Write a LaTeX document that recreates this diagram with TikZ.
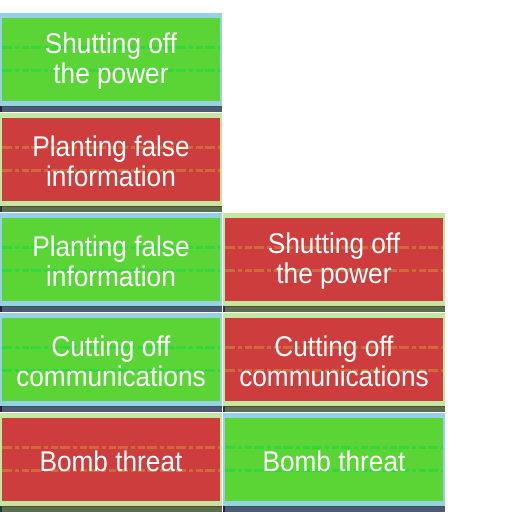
\documentclass[tikz,border=0pt]{standalone}
\usepackage{fontspec}
\setmainfont[FakeStretch=0.92]{Liberation Sans}

\definecolor{cellgreen}{HTML}{5BD536}
\definecolor{cellred}{HTML}{CE3D3D}
\definecolor{edgeblue}{HTML}{98D0E6}
\definecolor{edgegreen}{HTML}{C3E6A0}
\definecolor{slate}{HTML}{50587A}
\definecolor{moss}{HTML}{587050}
\definecolor{pine}{HTML}{1E6438}
\definecolor{rust}{HTML}{6E4020}
\definecolor{plum}{HTML}{301838}
\definecolor{deepteal}{HTML}{203838}
\definecolor{dashgreen}{HTML}{30D83C}
\definecolor{dashorange}{HTML}{D0683A}

\tikzset{
  good edge/.style={fill=edgeblue},
  good body/.style={fill=cellgreen},
  good strip/.style={fill=slate},
  good line/.style={fill=pine},
  good corner/.style={fill=plum},
  good dash/.style={draw=dashgreen},
  bad edge/.style={fill=edgegreen},
  bad body/.style={fill=cellred},
  bad strip/.style={fill=moss},
  bad line/.style={fill=rust},
  bad corner/.style={fill=deepteal},
  bad dash/.style={draw=dashorange},
  glitch/.style={line width=3pt, dash pattern=on 10pt off 3pt on 4pt off 3pt on 7pt off 2pt},
  label/.style={text=white, align=center, inner sep=0pt,
    minimum width=218pt, minimum height=82.7pt,
    font=\fontsize{28.5}{30}\selectfont},
}

% one tile: #1 node name, #2 left x, #3 top y, #4 good/bad, #5 text
\newcommand\tile[5]{%
  \fill[#4 edge] (#2,#3) rectangle ++(222,92.7);
  \fill[#4 body] (#2+2,#3+5) rectangle ++(218,82.7);
  \draw[#4 dash, glitch] (#2+2,#3+34) -- ++(218,0);
  \draw[#4 dash, glitch] (#2+2,#3+57) -- ++(218,0);
  \fill[#4 strip] (#2,#3+92.7) rectangle ++(222,6);
  \fill[#4 line] (#2,#3+92.7) rectangle ++(222,1.3);
  \fill[#4 corner] (#2,#3+92.7) rectangle ++(2,6);
  \node[label] (#1) at (#2+111,#3+48.3) {#5};
}

\begin{document}
\begin{tikzpicture}[x=1pt, y=-1pt]
  \useasboundingbox[fill=white] (0,0) rectangle (512,512);

  \tile{powerA}{0}{13}{good}{Shutting off\\the power}
  \tile{falseA}{0}{113}{bad}{Planting false\\information}
  \tile{falseB}{0}{213}{good}{Planting false\\information}
  \tile{powerB}{223}{213}{bad}{Shutting off\\the power}
  \tile{commsA}{0}{313}{good}{Cutting off\\communications}
  \tile{commsB}{223}{313}{bad}{Cutting off\\communications}
  \tile{bombA}{0}{413}{bad}{Bomb threat}
  \tile{bombB}{223}{413}{good}{Bomb threat}
\end{tikzpicture}
\end{document}
